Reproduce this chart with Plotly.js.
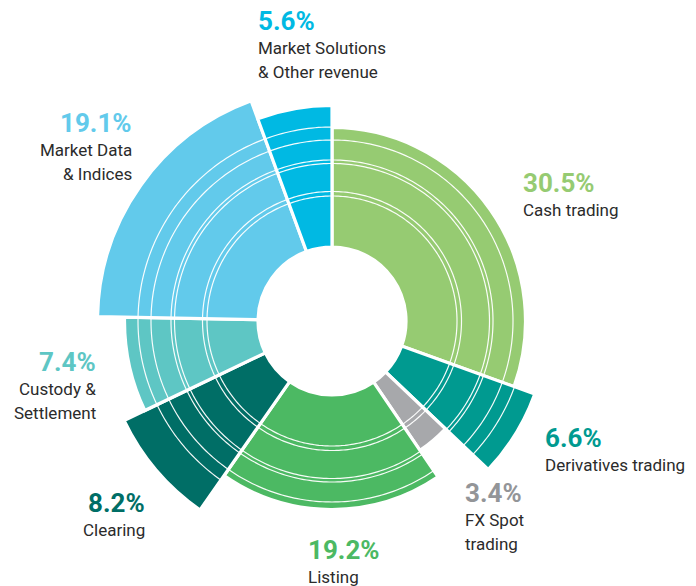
<!DOCTYPE html>
<html>
<head>
<meta charset="utf-8">
<script src="https://cdn.plot.ly/plotly-3.0.1.min.js"></script>
<style>html,body{margin:0;padding:0;background:#fff;}#chart{width:696px;height:586px;}</style>
</head>
<body>
<div id="chart"></div>
<script>
// ---- data ----
const categories = ['Cash trading', 'Derivatives trading', 'FX Spot trading', 'Listing', 'Clearing', 'Custody & Settlement', 'Market Data & Indices', 'Market Solutions & Other revenue'];
const shares = [30.5, 6.6, 3.4, 19.2, 8.2, 7.4, 19.1, 5.6];
const shareLabels = ['30.5%', '6.6%', '3.4%', '19.2%', '8.2%', '7.4%', '19.1%', '5.6%'];
const labelLines = [['Cash trading'], ['Derivatives trading'], ['FX Spot', 'trading'], ['Listing'], ['Clearing'], ['Custody &', 'Settlement'], ['Market Data', '& Indices'], ['Market Solutions', '& Other revenue']];
const segmentRadius = [192, 214, 155, 187, 229, 206, 233, 214];
const colors = ['#96CB72', '#009A90', '#A7A8AB', '#4CB963', '#006E66', '#5EC6C4', '#62CAEB', '#00B9E3'];
const labelColors = ['#96CB72', '#009A90', '#939598', '#4CB963', '#006E66', '#5EC6C4', '#62CAEB', '#00B9E3'];

// ---- layout constants ----
const W = 696, H = 586;
const cx = 332, cy = 321, R = 236, hole = 74;
const ringRadii = [125, 129.5, 157.5, 161, 181, 194];
// label anchor [x, y of percentage, align]
const labelPos = [
  [521, 183, 'left'],
  [543, 438, 'left'],
  [463, 493, 'left'],
  [306, 550, 'left'],
  [147, 503, 'right'],
  [98, 362, 'right'],
  [134, 123, 'right'],
  [256, 21, 'left']
];

const total = shares.reduce((a, b) => a + b, 0);
let cum = 0;
const thetas = [], widths = [];
shares.forEach(s => {
  const w = s / total * 360;
  thetas.push(cum + w / 2);
  widths.push(w);
  cum += w;
});

const traces = [{
  type: 'barpolar',
  theta: thetas,
  width: widths,
  base: shares.map(() => hole),
  r: segmentRadius.map(v => v + 1.5 - hole),
  marker: {color: colors, line: {color: '#ffffff', width: 3.2}},
  hoverinfo: 'text',
  text: categories,
  showlegend: false
}];

ringRadii.forEach(rr => {
  const th = [], rv = [];
  for (let a = 0; a <= 360; a += 1) { th.push(a); rv.push(rr); }
  traces.push({
    type: 'scatterpolar', mode: 'lines', theta: th, r: rv,
    line: {color: 'rgba(255,255,255,0.95)', width: 1.2},
    hoverinfo: 'skip', showlegend: false
  });
});

const annotations = [];
labelPos.forEach((p, i) => {
  const [x, y, align] = p;
  annotations.push({
    xref: 'paper', yref: 'paper', x: x / W, y: 1 - y / H,
    xanchor: align, yanchor: 'middle', showarrow: false,
    text: '<b>' + shareLabels[i] + '</b>',
    font: {family: 'Roboto, sans-serif', size: 26, color: labelColors[i]}
  });
  labelLines[i].forEach((ln, j) => {
    annotations.push({
      xref: 'paper', yref: 'paper', x: x / W, y: 1 - (y + 27 + j * 24) / H,
      xanchor: align, yanchor: 'middle', showarrow: false,
      text: ln.replace('&', '&amp;'),
      font: {family: 'Roboto, sans-serif', size: 17, color: '#2b2b2b'}
    });
  });
});

const layout = {
  width: W, height: H,
  margin: {l: 0, r: 0, t: 0, b: 0},
  paper_bgcolor: '#ffffff',
  showlegend: false,
  polar: {
    domain: {x: [(cx - R) / W, (cx + R) / W], y: [(H - cy - R) / H, (H - cy + R) / H]},
    bgcolor: 'rgba(0,0,0,0)',
    hole: 0,
    barmode: 'overlay',
    radialaxis: {visible: false, range: [0, R], showgrid: false},
    angularaxis: {visible: false, rotation: 90, direction: 'clockwise', showgrid: false}
  },
  annotations: annotations
};

Plotly.newPlot('chart', traces, layout, {displayModeBar: false, staticPlot: true});
</script>
</body>
</html>
